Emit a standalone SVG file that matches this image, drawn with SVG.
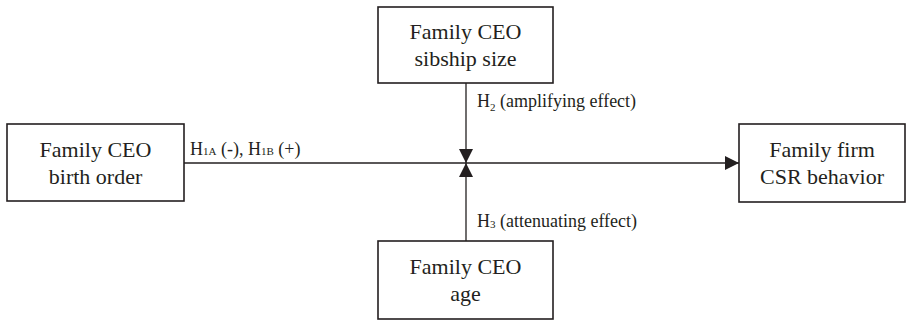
<svg xmlns="http://www.w3.org/2000/svg" width="908" height="321" viewBox="0 0 908 321">
<style>
.box{fill:#fff;stroke:#231f20;stroke-width:1.6}
.t{font-family:"Liberation Serif","Times New Roman",serif;font-size:22px;fill:#231f20;text-anchor:middle}
.l{font-family:"Liberation Serif","Times New Roman",serif;font-size:18px;fill:#231f20}
.s{font-size:11px}
.c{stroke:#231f20;stroke-width:1.3;fill:none}
</style>
<defs>
<marker id="ah" viewBox="0 0 14 14" refX="14" refY="7" markerWidth="14" markerHeight="14" markerUnits="userSpaceOnUse" orient="auto">
<path d="M0,0 L14,7 L0,14 Z" fill="#231f20"/>
</marker>
</defs>
<rect width="908" height="321" fill="#fff"/>
<g id="connectors">
<line class="c" x1="184" y1="163" x2="739" y2="163" marker-end="url(#ah)"/>
<line class="c" x1="466" y1="83" x2="466" y2="163" marker-end="url(#ah)"/>
<line class="c" x1="466" y1="241" x2="466" y2="163" marker-end="url(#ah)"/>
<text class="l" x="190" y="155">H<tspan class="s">1A</tspan> (-), H<tspan class="s">1B</tspan> (+)</text>
<text class="l" x="477" y="107">H<tspan class="s" dy="4">2</tspan><tspan dy="-4"> (amplifying effect)</tspan></text>
<text class="l" x="477" y="227">H<tspan class="s" dy="1">3</tspan><tspan dy="-1"> (attenuating effect)</tspan></text>
</g>
<g id="birth-order">
<rect class="box" x="7" y="124" width="177" height="77"/>
<text class="t" x="95.5" y="157">Family CEO</text>
<text class="t" x="95.5" y="184">birth order</text>
</g>
<g id="sibship-size">
<rect class="box" x="378" y="7" width="175" height="76"/>
<text class="t" x="465.5" y="39">Family CEO</text>
<text class="t" x="465.5" y="66">sibship size</text>
</g>
<g id="age">
<rect class="box" x="378" y="241" width="175" height="78"/>
<text class="t" x="465.5" y="274">Family CEO</text>
<text class="t" x="465.5" y="301">age</text>
</g>
<g id="csr-behavior">
<rect class="box" x="739" y="124" width="166" height="78"/>
<text class="t" x="822" y="157">Family firm</text>
<text class="t" x="822" y="184">CSR behavior</text>
</g>
</svg>
